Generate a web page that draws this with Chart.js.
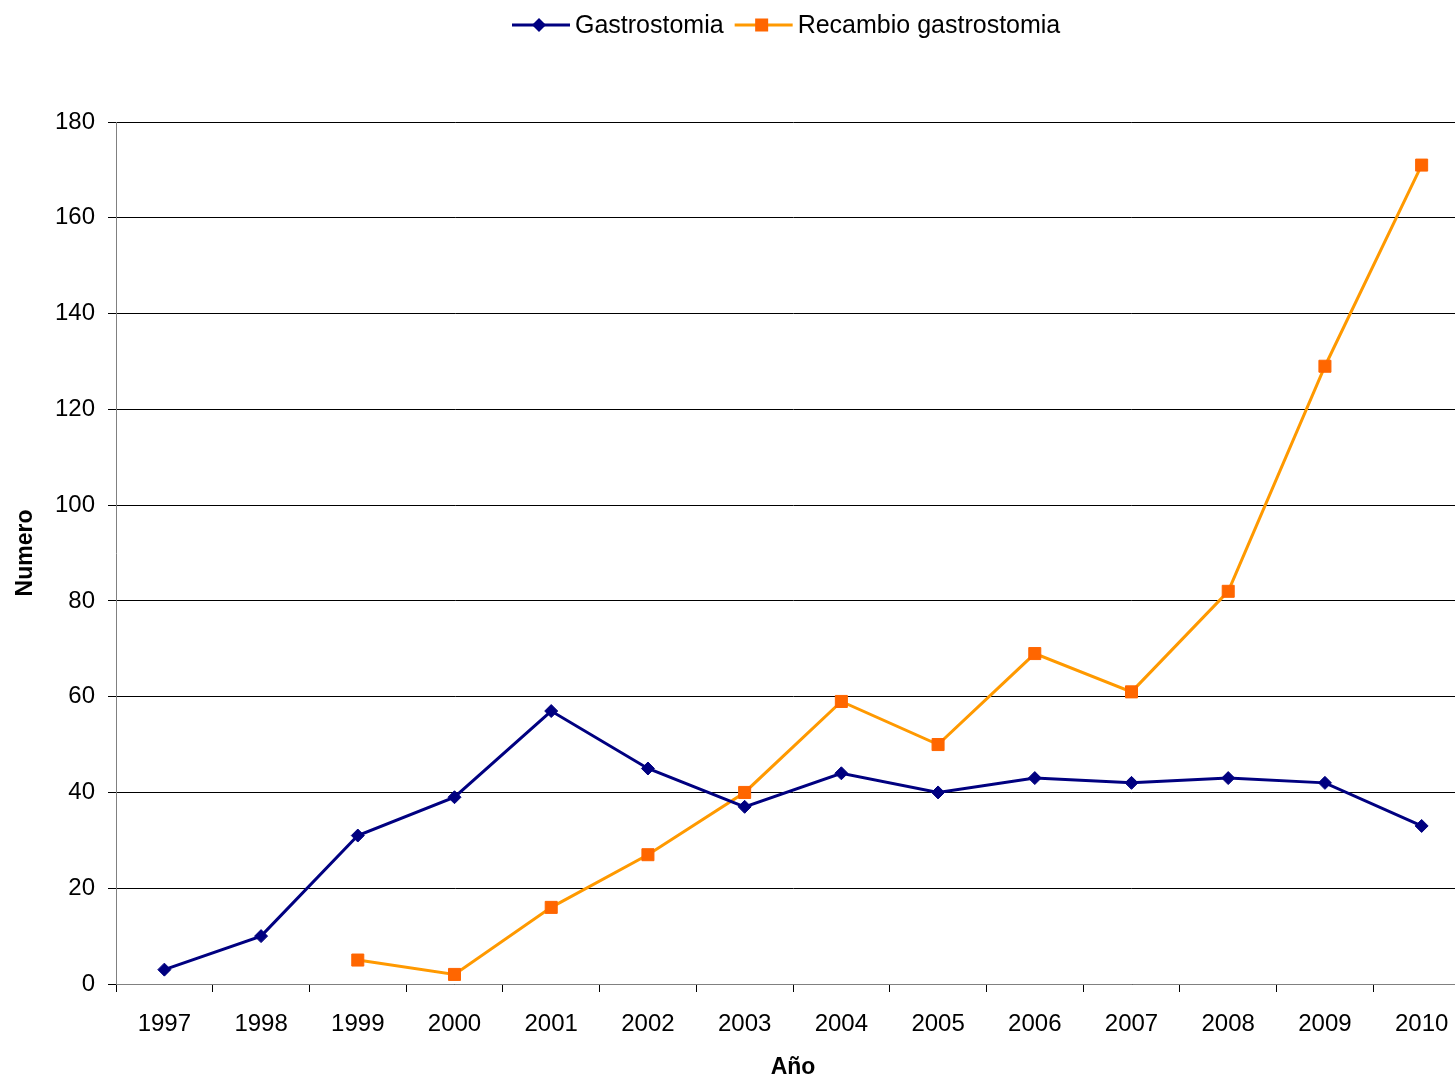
<!DOCTYPE html>
<html>
<head>
<meta charset="utf-8">
<script src="https://cdn.jsdelivr.net/npm/chart.js@4.4.0/dist/chart.umd.min.js"></script>
<style>
html,body{margin:0;padding:0;background:#fff;overflow:hidden;}
#wrap{width:1455px;height:1077px;position:relative;overflow:hidden;}
#c{position:absolute;left:0;top:0;}
</style>
</head>
<body>
<div id="wrap"><canvas id="c" width="1470" height="1077"></canvas></div>
<script>
const years = ['1997','1998','1999','2000','2001','2002','2003','2004','2005','2006','2007','2008','2009','2010'];
const gastrostomia = [3,10,31,39,57,45,37,44,40,43,42,43,42,33];
const recambio = [null,null,5,2,16,27,40,59,50,69,61,82,129,171];
const seriesNames = ['Gastrostomia','Recambio gastrostomia'];
const yTicks = {min:0, max:180, step:20};
const axisTitles = {x:'Año', y:'Numero'};

const FONT = "'Liberation Sans', Arial, sans-serif";

const legendPlugin = {
  id:'customLegend',
  afterDraw(chart){
    const ctx = chart.ctx;
    ctx.save();
    ctx.font = '25px ' + FONT;
    ctx.textBaseline = 'middle';
    ctx.textAlign = 'left';
    let x = 512;
    const y = 25;
    chart.data.datasets.forEach((ds) => {
      ctx.strokeStyle = ds.borderColor;
      ctx.lineWidth = 3;
      ctx.beginPath(); ctx.moveTo(x, y); ctx.lineTo(x + 58, y); ctx.stroke();
      ctx.fillStyle = ds.pointBackgroundColor;
      const cx = x + 27;
      if (ds.pointStyle === 'rectRot') {
        ctx.beginPath();
        ctx.moveTo(cx, y - 7); ctx.lineTo(cx + 7, y); ctx.lineTo(cx, y + 7); ctx.lineTo(cx - 7, y); ctx.closePath(); ctx.fill();
      } else {
        ctx.fillRect(cx - 6.5, y - 6.5, 13, 13);
      }
      ctx.fillStyle = '#000';
      ctx.fillText(ds.label, x + 63, y + 1);
      x += 63 + ctx.measureText(ds.label).width + 11;
    });
    ctx.restore();
  }
};

new Chart(document.getElementById('c'), {
  type:'line',
  data:{
    labels: years,
    datasets:[
      {label: seriesNames[0], data: gastrostomia, borderColor:'#000080', backgroundColor:'#000080',
       pointBackgroundColor:'#000080', pointBorderColor:'#000080', pointStyle:'rectRot',
       pointRadius:6.5, pointBorderWidth:1, borderWidth:3, tension:0, spanGaps:false},
      {label: seriesNames[1], data: recambio, borderColor:'#FF9900', backgroundColor:'#FF6600',
       pointBackgroundColor:'#FF6600', pointBorderColor:'#FF6600', pointStyle:'rect',
       pointRadius:8.5, pointBorderWidth:1, borderWidth:3, tension:0, spanGaps:false}
    ]
  },
  options:{
    responsive:false,
    animation:false,
    layout:{autoPadding:false, padding:{top:122, right:0, left:0, bottom:0}},
    plugins:{legend:{display:false}, tooltip:{enabled:false}},
    scales:{
      x:{
        type:'category',
        offset:true,
        afterFit(s){ s.height = 93; s.paddingRight = 0; s.paddingLeft = 0; },
        grid:{offset:true, drawOnChartArea:false, drawTicks:true, tickLength:8, color:'#000', lineWidth:1},
        border:{color:'#808080', width:1},
        ticks:{color:'#000', font:{family:FONT, size:24}, padding:18, maxRotation:0, autoSkip:false},
        title:{display:true, text:axisTitles.x, color:'#000', font:{family:FONT, size:23, weight:'bold', lineHeight:0.8}, padding:{top:0,bottom:0}}
      },
      y:{
        min:yTicks.min, max:yTicks.max,
        afterFit(s){ s.width = 116; },
        grid:{color:'#000', lineWidth:1, tickLength:8, drawTicks:true},
        border:{color:'#808080', width:1},
        ticks:{stepSize:yTicks.step, color:'#000', font:{family:FONT, size:24}, padding:13},
        title:{display:true, text:axisTitles.y, color:'#000', font:{family:FONT, size:23, weight:'bold', lineHeight:1}, padding:{top:14,bottom:0}}
      }
    }
  },
  plugins:[legendPlugin]
});
</script>
</body>
</html>
